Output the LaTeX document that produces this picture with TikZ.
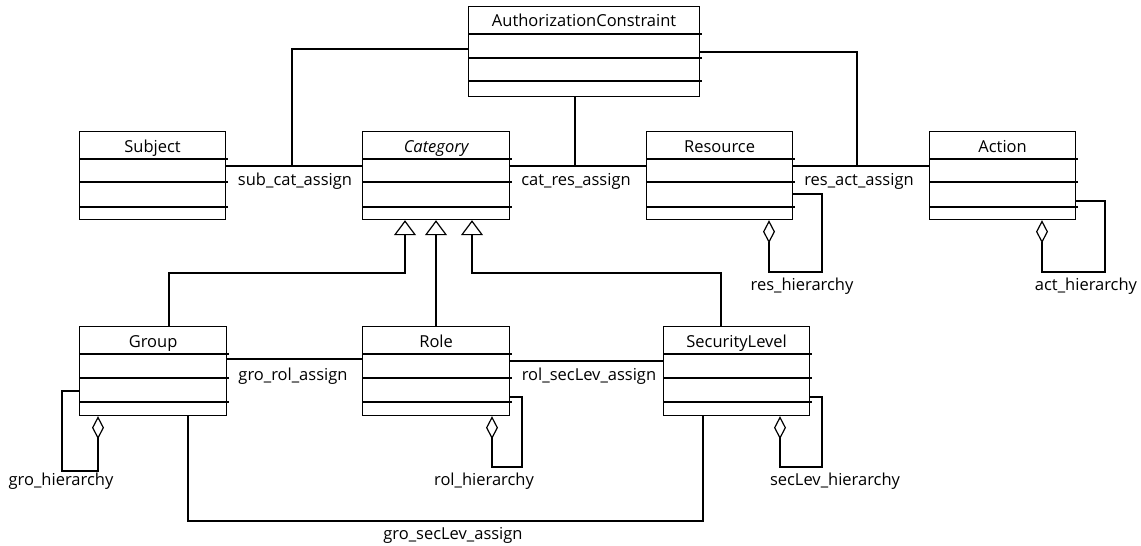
\documentclass[tikz,border=0pt]{standalone}
\usepackage{fontspec}
\setmainfont{Open Sans}
\usetikzlibrary{arrows.meta,calc}
\tikzset{
  classbox/.style={draw, rectangle, line width=1.2pt, inner sep=0pt, fill=white},
  divider/.style={line width=1.2pt},
  titletext/.style={font=\fontsize{16.5}{18}\selectfont, inner sep=0pt, anchor=base},
  lbl/.style={font=\fontsize{16.5}{18}\selectfont, inner sep=0pt, anchor=base},
  conn/.style={line width=1.2pt},
  gen/.style={line width=1.2pt, -{Triangle[open, width=22pt, length=15pt, line width=1.2pt]}},
  agg/.style={line width=1.2pt, -{Diamond[open, width=12pt, length=23pt, line width=1.2pt]}},
}
\newcommand\umlclass[9]{%
  \node[classbox, minimum width=#4pt, minimum height=#5pt, anchor=north west] (#1) at (#2,#3) {};
  \node[titletext] (#1-t) at ($(#1.north)+(0,21)$) {#6};
  \draw[divider] ($(#1.north west)+(0,#7)$) -- ($(#1.north east)+(2,#7)$);
  \draw[divider] ($(#1.north west)+(0,#8)$) -- ($(#1.north east)+(2,#8)$);
  \draw[divider] ($(#1.north west)+(0,#9)$) -- ($(#1.north east)+(2,#9)$);
}
\begin{document}
\begin{tikzpicture}[x=1pt,y=-1pt]
\useasboundingbox (0,0) rectangle (1141,546);
% classes
\umlclass{ac}{468}{6}{231}{90}{AuthorizationConstraint}{28}{52}{75}
\umlclass{subj}{79}{131}{146}{88}{Subject}{28}{51}{76}
\umlclass{cat}{362}{131}{147}{88}{\itshape Category}{28}{51}{76}
\umlclass{res}{646}{131}{146}{88}{Resource}{28}{51}{76}
\umlclass{act}{929}{131}{146}{88}{Action}{28}{51}{76}
\umlclass{grp}{79}{326}{147}{89}{Group}{28}{52}{76}
\umlclass{rol}{362}{326}{147}{89}{Role}{28}{52}{76}
\umlclass{sec}{663}{326}{146}{89}{SecurityLevel}{28}{52}{76}
% junction coordinates
\coordinate (j1) at (292,166);
\coordinate (j2) at (575,166);
\coordinate (j3) at (857,166);
\coordinate (gj) at (405,273);
\coordinate (sj) at (472,273);
% top associations
\draw[conn] (subj.east |- j1) -- (cat.west |- j1);
\draw[conn] ([yshift=-43pt]ac.north west) -| (j1);
\node[lbl] (l1) at (295,185) {sub\_cat\_assign};
\draw[conn] (cat.east |- j2) -- (res.west |- j2);
\draw[conn] (j2) -- (j2 |- ac.south);
\node[lbl] (l2) at (576,185) {cat\_res\_assign};
\draw[conn] (res.east |- j3) -- (act.west |- j3);
\draw[conn] ([yshift=-46pt]ac.north east) -| (j3);
\node[lbl] (l3) at (859,185) {res\_act\_assign};
% self hierarchies top
\draw[agg] ([yshift=-63pt]res.north east) -| (822,272) -| (res.south -| 769,0);
\node[lbl] (l4) at (802,290) {res\_hierarchy};
\draw[agg] ([yshift=-70pt]act.north east) -| (1105,272) -| (act.south -| 1042,0);
\node[lbl] (l5) at (1086,290) {act\_hierarchy};
% generalizations
\draw[gen] (grp.north -| 169,0) |- (gj) -- (gj |- cat.south);
\draw[gen] (rol.north -| 436,0) -- (cat.south -| 436,0);
\draw[gen] (sec.north -| 721,0) |- (sj) -- (sj |- cat.south);
% bottom associations
\draw[conn] (grp.east |- 0,359) -- (rol.west |- 0,359);
\node[lbl] (l6) at (293,380) {gro\_rol\_assign};
\draw[conn] (rol.east |- 0,361) -- (sec.west |- 0,361);
\node[lbl] (l7) at (589,380) {rol\_secLev\_assign};
\draw[conn] (grp.south -| 188,0) |- (450,521) -| (sec.south -| 703,0);
\node[lbl] (l8) at (453,539) {gro\_secLev\_assign};
% bottom hierarchies
\draw[agg] ([yshift=-65pt]grp.north west) -| (62,471) -| (grp.south -| 98,0);
\node[lbl] (l9) at (61,485) {gro\_hierarchy};
\draw[agg] ([yshift=-71pt]rol.north east) -| (522,467) -| (rol.south -| 492,0);
\node[lbl] (l10) at (484,485) {rol\_hierarchy};
\draw[agg] ([yshift=-71pt]sec.north east) -| (822,467) -| (sec.south -| 780,0);
\node[lbl] (l11) at (835,485) {secLev\_hierarchy};
\end{tikzpicture}
\end{document}
